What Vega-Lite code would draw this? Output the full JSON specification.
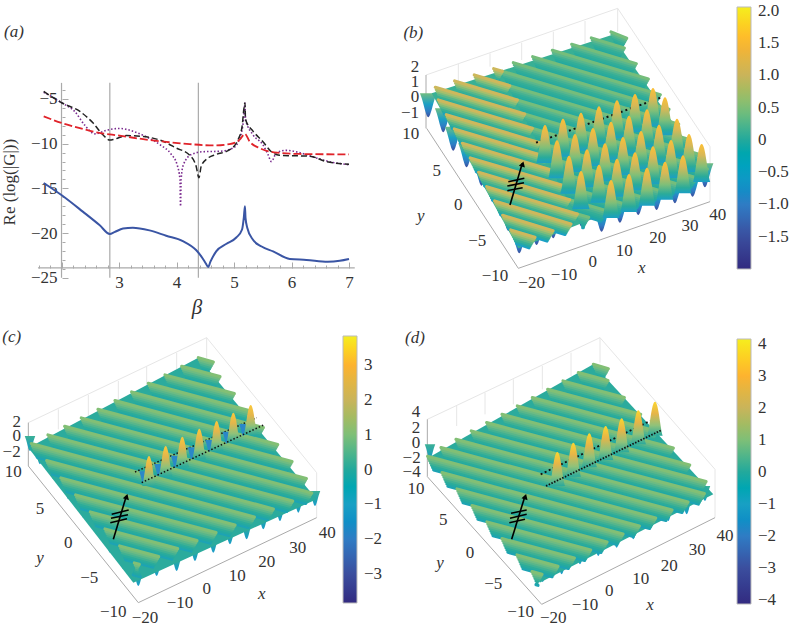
{"$schema":"https://vega.github.io/schema/vega-lite/v6.json","padding":0,"autosize":{"type":"pad"},"background":"white","spacing":0,
"resolve":{"scale":{"color":"independent"},"legend":{"color":"independent"}},
"config":{"view":{"stroke":null},"text":{"font":"Liberation Serif","fontSize":17,"color":"#333"},"axis":{"labelFont":"Liberation Serif","titleFont":"Liberation Serif"},"legend":{"labelFont":"Liberation Serif"}},
"datasets":{
"aLines":[
{"s":"blue","b":1.69,"g":-14.4},{"s":"blue","b":2.01,"g":-15.8},{"s":"blue","b":2.37,"g":-17.6},{"s":"blue","b":2.66,"g":-19.1},{"s":"blue","b":2.84,"g":-20.1},{"s":"blue","b":2.92,"g":-19.9},{"s":"blue","b":3.07,"g":-19.5},{"s":"blue","b":3.24,"g":-19.4},{"s":"blue","b":3.53,"g":-19.7},{"s":"blue","b":3.82,"g":-20.3},{"s":"blue","b":4.11,"g":-20.9},{"s":"blue","b":4.34,"g":-21.9},{"s":"blue","b":4.43,"g":-22.6},{"s":"blue","b":4.51,"g":-23.4},{"s":"blue","b":4.55,"g":-23.8},{"s":"blue","b":4.59,"g":-23.2},{"s":"blue","b":4.69,"g":-22.05},{"s":"blue","b":4.87,"g":-21.2},{"s":"blue","b":5.04,"g":-20.5},{"s":"blue","b":5.14,"g":-19.6},{"s":"blue","b":5.17,"g":-18.3},{"s":"blue","b":5.19,"g":-17},{"s":"blue","b":5.2,"g":-18.3},{"s":"blue","b":5.23,"g":-19.4},{"s":"blue","b":5.33,"g":-20.75},{"s":"blue","b":5.48,"g":-21.5},{"s":"blue","b":5.68,"g":-22.05},{"s":"blue","b":5.97,"g":-22.9},{"s":"blue","b":6.26,"g":-23},{"s":"blue","b":6.63,"g":-23.2},{"s":"blue","b":6.84,"g":-23.1},{"s":"blue","b":7,"g":-22.9}],
"aBlack":[{"b":1.69,"g":-4.15},{"b":2.01,"g":-5.45},{"b":2.32,"g":-6.4},{"b":2.55,"g":-7.7},{"b":2.72,"g":-9},{"b":2.84,"g":-9.6},{"b":2.92,"g":-9.5},{"b":3.13,"g":-9.1},{"b":3.42,"g":-9.2},{"b":3.71,"g":-9.6},{"b":4,"g":-10.5},{"b":4.23,"g":-11.3},{"b":4.34,"g":-12.5},{"b":4.39,"g":-13.8},{"b":4.43,"g":-12.5},{"b":4.55,"g":-11.6},{"b":4.69,"g":-11.2},{"b":4.92,"g":-10.7},{"b":5.07,"g":-9.55},{"b":5.14,"g":-8.1},{"b":5.17,"g":-6.2},{"b":5.19,"g":-5.45},{"b":5.2,"g":-7.3},{"b":5.33,"g":-8.6},{"b":5.5,"g":-9.75},{"b":5.65,"g":-10.9},{"b":5.79,"g":-11.3},{"b":6.03,"g":-11.35},{"b":6.32,"g":-11.4},{"b":6.6,"g":-12},{"b":7,"g":-12.3}],
"aPurple":[{"b":1.69,"g":-4.25},{"b":2.01,"g":-5.45},{"b":2.23,"g":-6.4},{"b":2.4,"g":-7.9},{"b":2.58,"g":-8.9},{"b":2.78,"g":-8.5},{"b":3.01,"g":-8.3},{"b":3.24,"g":-8.6},{"b":3.48,"g":-9.25},{"b":3.71,"g":-10.1},{"b":3.91,"g":-11.2},{"b":4.01,"g":-12.35},{"b":4.06,"g":-14},{"b":4.07,"g":-17},{"b":4.08,"g":-14},{"b":4.12,"g":-12.35},{"b":4.26,"g":-11.2},{"b":4.46,"g":-10.9},{"b":4.75,"g":-10.85},{"b":4.98,"g":-10.5},{"b":5.1,"g":-9.4},{"b":5.17,"g":-7},{"b":5.19,"g":-5.45},{"b":5.2,"g":-7.3},{"b":5.33,"g":-9},{"b":5.5,"g":-10.1},{"b":5.59,"g":-11.2},{"b":5.65,"g":-12},{"b":5.74,"g":-11},{"b":5.91,"g":-10.75},{"b":6.14,"g":-11},{"b":6.43,"g":-11.6},{"b":6.72,"g":-12.1},{"b":7,"g":-12.35}],
"aRed":[{"b":1.69,"g":-6.95},{"b":2.01,"g":-7.7},{"b":2.37,"g":-8.35},{"b":2.66,"g":-8.8},{"b":3.01,"g":-9.1},{"b":3.42,"g":-9.5},{"b":3.82,"g":-9.8},{"b":4.23,"g":-10.05},{"b":4.63,"g":-10.2},{"b":4.92,"g":-10.05},{"b":5.1,"g":-9.55},{"b":5.19,"g":-8.9},{"b":5.27,"g":-9.75},{"b":5.45,"g":-10.5},{"b":5.74,"g":-11},{"b":6.14,"g":-11.15},{"b":7,"g":-11.2}],
"bFaint":[{"u":108,"v":195,"u2":683,"v2":-5},{"u":683,"v":-5,"u2":960,"v2":410},{"u":960,"v":410,"u2":960,"v2":575},{"u":683,"v":-5,"u2":683,"v2":65},{"u":205,"v":162,"u2":205,"v2":215},{"u":300,"v":130,"u2":300,"v2":170},{"u":395,"v":98,"u2":395,"v2":150},{"u":490,"v":65,"u2":490,"v2":130},{"u":585,"v":33,"u2":585,"v2":100}],
"bAxis":[{"u":110,"v":355,"u2":385,"v2":775},{"u":385,"v":775,"u2":960,"v2":575},{"u":108,"v":195,"u2":108,"v2":355}],
"bDips":[{"u":115,"v":322},{"u":160,"v":367},{"u":190,"v":422},{"u":230,"v":472},{"u":275,"v":527},{"u":320,"v":592},{"u":355,"v":662},{"u":388,"v":730},{"u":440,"v":705},{"u":490,"v":685},{"u":575,"v":650},{"u":635,"v":665},{"u":690,"v":638},{"u":745,"v":615},{"u":800,"v":600},{"u":855,"v":580},{"u":908,"v":560},{"u":945,"v":532}],
"bBase":[{"u":540,"v":395}],
"bFlat":[{"u":663,"v":66,"u2":710,"v2":85},{"u":604,"v":84,"u2":703,"v2":114},{"u":545,"v":103,"u2":739,"v2":161},{"u":487,"v":121,"u2":775,"v2":207},{"u":428,"v":140,"u2":811,"v2":254},{"u":370,"v":158,"u2":769,"v2":278},{"u":337,"v":184,"u2":715,"v2":297},{"u":359,"v":227,"u2":660,"v2":317},{"u":382,"v":270,"u2":606,"v2":337},{"u":404,"v":312,"u2":551,"v2":356},{"u":427,"v":355,"u2":496,"v2":376},{"u":769,"v":278,"u2":837,"v2":298},{"u":715,"v":297,"u2":866,"v2":343},{"u":660,"v":317,"u2":895,"v2":388},{"u":606,"v":337,"u2":924,"v2":432},{"u":551,"v":356,"u2":952,"v2":477},{"u":496,"v":376,"u2":919,"v2":503},{"u":450,"v":398,"u2":865,"v2":523},{"u":472,"v":441,"u2":811,"v2":542},{"u":494,"v":483,"u2":758,"v2":562},{"u":517,"v":526,"u2":704,"v2":582},{"u":539,"v":569,"u2":650,"v2":602},{"u":562,"v":612,"u2":596,"v2":622}],
"bElev":[{"u":311,"v":176,"u2":337,"v2":184},{"u":253,"v":195,"u2":359,"v2":227},{"u":194,"v":213,"u2":382,"v2":270},{"u":136,"v":232,"u2":404,"v2":312},{"u":145,"v":270,"u2":427,"v2":355},{"u":169,"v":314,"u2":449,"v2":398},{"u":193,"v":357,"u2":472,"v2":441},{"u":217,"v":400,"u2":494,"v2":483},{"u":241,"v":444,"u2":517,"v2":526},{"u":266,"v":487,"u2":539,"v2":569},{"u":290,"v":530,"u2":562,"v2":612},{"u":314,"v":573,"u2":543,"v2":642},{"u":338,"v":616,"u2":489,"v2":662},{"u":362,"v":660,"u2":435,"v2":682}],
"bDots":[{"u":438,"v":398,"u2":815,"v2":262}],
"bPeaks":[{"u":789,"v":234},{"u":735,"v":252},{"u":681,"v":271},{"u":825,"v":262},{"u":627,"v":289},{"u":771,"v":298},{"u":573,"v":308},{"u":717,"v":317},{"u":861,"v":326},{"u":519,"v":326},{"u":663,"v":335},{"u":807,"v":344},{"u":465,"v":345},{"u":609,"v":354},{"u":753,"v":363},{"u":897,"v":372},{"u":555,"v":372},{"u":699,"v":381},{"u":843,"v":390},{"u":501,"v":391},{"u":645,"v":400},{"u":789,"v":409},{"u":935,"v":402},{"u":591,"v":418},{"u":735,"v":427},{"u":879,"v":436},{"u":537,"v":437},{"u":681,"v":446},{"u":825,"v":455},{"u":627,"v":464},{"u":771,"v":473},{"u":717,"v":492},{"u":573,"v":483},{"u":663,"v":510}],
"bArrow":[{"u":360,"v":585,"u2":397,"v2":460},{"u":355,"v":515,"u2":403,"v2":505},{"u":352,"v":528,"u2":402,"v2":518},{"u":352,"v":542,"u2":398,"v2":533}],
"bHead":[{"u":398,"v":462}],
"bText":[{"t":"(b)","u":70,"v":70,"k":"i"},{"t":"−20","u":425,"v":820},{"t":"−10","u":522,"v":795},{"t":"0","u":608,"v":755},{"t":"10","u":703,"v":722},{"t":"20","u":803,"v":685},{"t":"30","u":900,"v":647},{"t":"40","u":983,"v":615},{"t":"x","u":755,"v":775,"k":"i"},{"t":"10","u":62,"v":372},{"t":"5","u":140,"v":482},{"t":"0","u":205,"v":585},{"t":"−5","u":262,"v":692},{"t":"−10","u":315,"v":797},{"t":"y","u":92,"v":618,"k":"i"},{"t":"2","u":75,"v":172},{"t":"1","u":75,"v":215},{"t":"0","u":75,"v":262},{"t":"−1","u":60,"v":308}],
"cFaint":[{"u":85,"v":290,"u2":620,"v2":35},{"u":620,"v":35,"u2":620,"v2":95},{"u":620,"v":35,"u2":950,"v2":440},{"u":950,"v":440,"u2":950,"v2":575},{"u":175,"v":250,"u2":175,"v2":310},{"u":265,"v":207,"u2":265,"v2":270},{"u":355,"v":165,"u2":355,"v2":225},{"u":440,"v":122,"u2":440,"v2":185},{"u":530,"v":80,"u2":530,"v2":140}],
"cAxis":[{"u":85,"v":420,"u2":415,"v2":830},{"u":415,"v":830,"u2":950,"v2":575},{"u":85,"v":290,"u2":85,"v2":420}],
"cDips":[{"u":90,"v":375},{"u":120,"v":415},{"u":160,"v":460},{"u":205,"v":520},{"u":250,"v":575},{"u":295,"v":625},{"u":330,"v":680},{"u":370,"v":730},{"u":415,"v":780},{"u":470,"v":750},{"u":530,"v":735},{"u":585,"v":705},{"u":640,"v":680},{"u":690,"v":655},{"u":740,"v":640},{"u":790,"v":610},{"u":840,"v":585},{"u":895,"v":560},{"u":945,"v":540}],
"cSheet":[{"u":517,"v":437}],
"cR":[{"u":595,"v":95,"u2":640,"v2":108},{"u":545,"v":121,"u2":660,"v2":152},{"u":495,"v":147,"u2":703,"v2":203},{"u":445,"v":172,"u2":747,"v2":254},{"u":395,"v":198,"u2":790,"v2":305},{"u":345,"v":224,"u2":833,"v2":356},{"u":294,"v":250,"u2":876,"v2":407},{"u":244,"v":276,"u2":919,"v2":458},{"u":194,"v":301,"u2":935,"v2":501},{"u":144,"v":327,"u2":878,"v2":525},{"u":94,"v":353,"u2":820,"v2":549},{"u":140,"v":404,"u2":763,"v2":573},{"u":183,"v":456,"u2":705,"v2":597},{"u":227,"v":507,"u2":648,"v2":620},{"u":271,"v":558,"u2":591,"v2":644},{"u":315,"v":609,"u2":533,"v2":668},{"u":359,"v":660,"u2":476,"v2":692},{"u":403,"v":711,"u2":418,"v2":715}],
"cDotsBack":[{"u":405,"v":438,"u2":770,"v2":275}],
"cDotsFront":[{"u":425,"v":470,"u2":790,"v2":297}],
"cBase":[{"u":730,"v":330},{"u":680,"v":353},{"u":628,"v":378},{"u":575,"v":400},{"u":525,"v":425},{"u":475,"v":450},{"u":430,"v":472}],
"cPeaks":[{"u":752,"v":237},{"u":700,"v":260},{"u":650,"v":285},{"u":598,"v":308},{"u":547,"v":332},{"u":497,"v":360},{"u":447,"v":390}],
"cArrow":[{"u":340,"v":640,"u2":379,"v2":510},{"u":335,"v":565,"u2":386,"v2":552},{"u":333,"v":577,"u2":384,"v2":566},{"u":331,"v":590,"u2":381,"v2":578}],
"cHead":[{"u":380,"v":512}],
"cText":[{"t":"(c)","u":35,"v":33,"k":"i"},{"t":"−20","u":435,"v":875},{"t":"−10","u":540,"v":830},{"t":"0","u":620,"v":790},{"t":"10","u":712,"v":750},{"t":"20","u":800,"v":708},{"t":"30","u":893,"v":665},{"t":"40","u":982,"v":622},{"t":"x","u":785,"v":805,"k":"i"},{"t":"10","u":40,"v":437},{"t":"5","u":120,"v":550},{"t":"0","u":205,"v":650},{"t":"−5","u":268,"v":755},{"t":"−10","u":340,"v":858},{"t":"y","u":120,"v":695,"k":"i"},{"t":"2","u":50,"v":288},{"t":"0","u":50,"v":330},{"t":"−2","u":35,"v":378}],
"dFaint":[{"u":112,"v":280,"u2":630,"v2":35},{"u":630,"v":35,"u2":630,"v2":110},{"u":630,"v":35,"u2":975,"v2":430},{"u":975,"v":430,"u2":975,"v2":575},{"u":200,"v":240,"u2":200,"v2":300},{"u":285,"v":200,"u2":285,"v2":265},{"u":370,"v":160,"u2":370,"v2":235},{"u":457,"v":120,"u2":457,"v2":190},{"u":543,"v":80,"u2":543,"v2":150}],
"dAxis":[{"u":112,"v":452,"u2":455,"v2":835},{"u":455,"v":835,"u2":975,"v2":575},{"u":112,"v":280,"u2":112,"v2":452}],
"dDips":[{"u":120,"v":400},{"u":160,"v":440},{"u":200,"v":490},{"u":240,"v":530},{"u":280,"v":580},{"u":320,"v":625},{"u":365,"v":670},{"u":410,"v":720},{"u":458,"v":768},{"u":515,"v":745},{"u":570,"v":715},{"u":625,"v":690},{"u":680,"v":665},{"u":730,"v":640},{"u":780,"v":605},{"u":835,"v":585},{"u":890,"v":565},{"u":945,"v":525}],
"dSheet":[{"u":541,"v":440}],
"dR":[{"u":610,"v":115,"u2":655,"v2":128},{"u":565,"v":140,"u2":654,"v2":164},{"u":519,"v":165,"u2":703,"v2":215},{"u":473,"v":190,"u2":752,"v2":265},{"u":427,"v":215,"u2":801,"v2":316},{"u":382,"v":240,"u2":850,"v2":366},{"u":336,"v":265,"u2":899,"v2":417},{"u":290,"v":290,"u2":948,"v2":467},{"u":244,"v":315,"u2":943,"v2":503},{"u":198,"v":340,"u2":894,"v2":528},{"u":153,"v":365,"u2":846,"v2":552},{"u":113,"v":391,"u2":797,"v2":576},{"u":156,"v":440,"u2":748,"v2":600},{"u":201,"v":489,"u2":699,"v2":624},{"u":246,"v":539,"u2":651,"v2":648},{"u":291,"v":588,"u2":602,"v2":672},{"u":336,"v":638,"u2":553,"v2":696},{"u":381,"v":687,"u2":504,"v2":721},{"u":426,"v":737,"u2":456,"v2":745}],
"dDotsBack":[{"u":452,"v":445,"u2":780,"v2":285}],
"dDotsFront":[{"u":468,"v":480,"u2":815,"v2":312}],
"dPeaks":[{"u":795,"v":227},{"u":745,"v":253},{"u":695,"v":277},{"u":647,"v":300},{"u":598,"v":322},{"u":550,"v":350},{"u":502,"v":378}],
"dArrow":[{"u":365,"v":640,"u2":405,"v2":510},{"u":363,"v":562,"u2":410,"v2":552},{"u":360,"v":577,"u2":410,"v2":565},{"u":358,"v":590,"u2":405,"v2":580}],
"dHead":[{"u":406,"v":512}],
"dText":[{"t":"(d)","u":75,"v":35,"k":"i"},{"t":"−20","u":490,"v":875},{"t":"−10","u":585,"v":838},{"t":"0","u":658,"v":795},{"t":"10","u":752,"v":758},{"t":"20","u":838,"v":720},{"t":"30","u":922,"v":672},{"t":"40","u":1005,"v":630},{"t":"x","u":780,"v":838,"k":"i"},{"t":"10","u":78,"v":490},{"t":"5","u":160,"v":583},{"t":"0","u":240,"v":680},{"t":"−5","u":310,"v":775},{"t":"−10","u":392,"v":858},{"t":"y","u":150,"v":712,"k":"i"},{"t":"4","u":78,"v":257},{"t":"2","u":78,"v":305},{"t":"0","u":78,"v":350},{"t":"−2","u":65,"v":395},{"t":"−4","u":65,"v":438}]
},
"vconcat":[
{"resolve":{"scale":{"color":"independent"},"legend":{"color":"independent"}},"hconcat":[
{"width":390,"height":318,
"encoding":{
"x":{"field":"b","type":"quantitative","scale":{"domain":[0.93,7.713],"nice":false,"zero":false},
"axis":{"offset":-50,"grid":false,"domain":false,"title":null,"values":[1.6,1.8,2,2.2,2.4,2.6,2.8,3,3.2,3.4,3.6,3.8,4,4.2,4.4,4.6,4.8,5,5.2,5.4,5.6,5.8,6,6.2,6.4,6.6,6.8,7],"labelExpr":"(abs(datum.value-round(datum.value))<0.01&&datum.value>=3)?format(datum.value,'d'):''","labelFontSize":17,"labelColor":"#333","labelPadding":12,"tickColor":"#aaa","tickSize":{"condition":{"test":"abs(datum.value-round(datum.value))<0.01","value":-6},"value":-3},"labelOverlap":false}},
"y":{"field":"g","type":"quantitative","scale":{"domain":[-29.5,6.07],"nice":false,"zero":false},
"axis":{"offset":-62,"grid":false,"domain":false,"title":null,"values":[-25,-24,-23,-22,-21,-20,-19,-18,-17,-16,-15,-14,-13,-12,-11,-10,-9,-8,-7,-6,-5,-4],"labelExpr":"datum.value%5==0?format(datum.value,'d'):''","labelFontSize":17,"labelColor":"#333","labelPadding":11,"tickColor":"#aaa","tickSize":{"condition":{"test":"datum.value%5==0","value":-6},"value":-3},"labelOverlap":false}}},
"layer":[
{"data":{"values":[{"b":2,"g":-25,"g2":-3.2},{"b":2.84,"g":-25,"g2":-3.2},{"b":4.38,"g":-25,"g2":-3.2}]},"mark":{"type":"rule","color":"#aaa","strokeWidth":1.2},"encoding":{"y2":{"field":"g2"}}},
{"data":{"values":[{"b":1.59,"b2":7.1,"g":-23.9}]},"mark":{"type":"rule","color":"#aaa","strokeWidth":1.2},"encoding":{"x2":{"field":"b2"}}},
{"data":{"name":"aLines"},"mark":{"type":"line","color":"#3a55a4","strokeWidth":2,"interpolate":"monotone"}},
{"data":{"name":"aPurple"},"mark":{"type":"line","color":"#7a2a8e","strokeWidth":1.6,"strokeDash":[1.5,2],"interpolate":"monotone"}},
{"data":{"name":"aBlack"},"mark":{"type":"line","color":"#222","strokeWidth":1.5,"strokeDash":[6,3],"interpolate":"monotone"}},
{"data":{"name":"aRed"},"mark":{"type":"line","color":"#e0232a","strokeWidth":1.8,"strokeDash":[8,3],"interpolate":"monotone"}},
{"data":{"values":[{"t":"(a)","b":1.0,"g":2.5}]},"mark":{"type":"text","fontStyle":"italic","align":"left"},"encoding":{"text":{"field":"t"}}},
{"data":{"values":[{"t":"β","b":4.356,"g":-28.4}]},"mark":{"type":"text","fontStyle":"italic","fontSize":21},"encoding":{"text":{"field":"t"}}},
{"data":{"values":[{"t":"Re (log(|G|))","b":1.104,"g":-14.3}]},"mark":{"type":"text","angle":270},"encoding":{"text":{"field":"t"}}}
]},
{"width":401,"height":318,
"encoding":{"x":{"field":"u","type":"quantitative","scale":{"domain":[0,1203],"nice":false,"zero":false},"axis":null},"y":{"field":"v","type":"quantitative","scale":{"domain":[924,-30],"nice":false,"zero":false},"axis":null}},
"layer":[
{"data":{"name":"bFaint"},"mark":{"type":"rule","color":"#e6e6e6","strokeWidth":1},"encoding":{"x2":{"field":"u2"},"y2":{"field":"v2"}}},
{"data":{"name":"bAxis"},"mark":{"type":"rule","color":"#aaa","strokeWidth":1},"encoding":{"x2":{"field":"u2"},"y2":{"field":"v2"}}},
{"data":{"name":"bDips"},"mark":{"type":"point","filled":true,"opacity":1,"shape":"M-0.7,-1 C-0.4,-0.3 -0.2,1 0,1 C0.2,1 0.4,-0.3 0.7,-1 Z","size":576,"yOffset":-12,"fill":{"gradient":"linear","x1":0,"y1":0,"x2":0,"y2":1,"stops":[{"offset":0,"color":"#70bc82"},{"offset":0.45,"color":"#1aa0c4"},{"offset":0.75,"color":"#2f7cc4"},{"offset":1,"color":"#3b4e9e"}]}}},
{"data":{"name":"bBase"},"mark":{"type":"point","filled":true,"opacity":1,"shape":"M-0.922,-0.322 L0.278,-0.711 L0.922,0.211 L-0.344,0.711 Z","size":90000,"fill":"#38b095"}},
{"data":{"name":"bFlat"},"mark":{"type":"rule","strokeCap":"round","strokeWidth":3.2,"color":"#1ea1b5","xOffset":6,"yOffset":13.6,"x2Offset":-6,"y2Offset":10.4},"encoding":{"x2":{"field":"u2"},"y2":{"field":"v2"}}},
{"data":{"name":"bFlat"},"mark":{"type":"rule","strokeCap":"round","strokeWidth":3.2,"color":"#21a8a3","xOffset":5,"yOffset":11.35,"x2Offset":-5,"y2Offset":8.65},"encoding":{"x2":{"field":"u2"},"y2":{"field":"v2"}}},
{"data":{"name":"bFlat"},"mark":{"type":"rule","strokeCap":"round","strokeWidth":3.2,"color":"#2aab9c","xOffset":4,"yOffset":9.1,"x2Offset":-4,"y2Offset":6.9},"encoding":{"x2":{"field":"u2"},"y2":{"field":"v2"}}},
{"data":{"name":"bFlat"},"mark":{"type":"rule","strokeCap":"round","strokeWidth":3.2,"color":"#33ae98","xOffset":3,"yOffset":6.8,"x2Offset":-3,"y2Offset":5.2},"encoding":{"x2":{"field":"u2"},"y2":{"field":"v2"}}},
{"data":{"name":"bFlat"},"mark":{"type":"rule","strokeCap":"round","strokeWidth":3.2,"color":"#45b293","xOffset":2,"yOffset":4.5,"x2Offset":-2,"y2Offset":3.5},"encoding":{"x2":{"field":"u2"},"y2":{"field":"v2"}}},
{"data":{"name":"bFlat"},"mark":{"type":"rule","strokeCap":"round","strokeWidth":3.2,"color":"#5cb78c","xOffset":1,"yOffset":2.3,"x2Offset":-1,"y2Offset":1.7},"encoding":{"x2":{"field":"u2"},"y2":{"field":"v2"}}},
{"data":{"name":"bFlat"},"mark":{"type":"rule","strokeCap":"round","strokeWidth":3.2},"encoding":{"x2":{"field":"u2"},"y2":{"field":"v2"},"color":{"datum":0.45,"type":"quantitative","scale":{"domain":[-2,-1.5,-1,-0.5,0,0.5,1,1.5,2.06],"range":["#322a80","#3b4e9e","#2f7cc4","#18a0c4","#22a99c","#7ebf77","#c9b45a","#fdb32f","#f5ee1f"]},"legend":{"type":"gradient","orient":"none","legendX":347,"legendY":7,"title":null,"gradientLength":262,"gradientThickness":14,"values":[-1.5,-1,-0.5,0,0.5,1,1.5,2],"labelExpr":"datum.value==0?'0':format(datum.value,'.1f')","labelFontSize":17,"labelColor":"#333","labelOffset":7,"gradientStrokeColor":"#bbb","gradientStrokeWidth":1,"labelOverlap":false}}}},
{"data":{"name":"bElev"},"mark":{"type":"rule","strokeCap":"round","strokeWidth":3.2,"color":"#1aa0c4","xOffset":6,"yOffset":13.6,"x2Offset":-6,"y2Offset":10.4},"encoding":{"x2":{"field":"u2"},"y2":{"field":"v2"}}},
{"data":{"name":"bElev"},"mark":{"type":"rule","strokeCap":"round","strokeWidth":3.2,"color":"#25a9a5","xOffset":5,"yOffset":11.35,"x2Offset":-5,"y2Offset":8.65},"encoding":{"x2":{"field":"u2"},"y2":{"field":"v2"}}},
{"data":{"name":"bElev"},"mark":{"type":"rule","strokeCap":"round","strokeWidth":3.2,"color":"#38b095","xOffset":4,"yOffset":9.1,"x2Offset":-4,"y2Offset":6.9},"encoding":{"x2":{"field":"u2"},"y2":{"field":"v2"}}},
{"data":{"name":"bElev"},"mark":{"type":"rule","strokeCap":"round","strokeWidth":3.2,"color":"#58b78a","xOffset":3,"yOffset":6.8,"x2Offset":-3,"y2Offset":5.2},"encoding":{"x2":{"field":"u2"},"y2":{"field":"v2"}}},
{"data":{"name":"bElev"},"mark":{"type":"rule","strokeCap":"round","strokeWidth":3.2,"color":"#7fbd7a","xOffset":2,"yOffset":4.5,"x2Offset":-2,"y2Offset":3.5},"encoding":{"x2":{"field":"u2"},"y2":{"field":"v2"}}},
{"data":{"name":"bElev"},"mark":{"type":"rule","strokeCap":"round","strokeWidth":3.2,"color":"#a7be6c","xOffset":1,"yOffset":2.3,"x2Offset":-1,"y2Offset":1.7},"encoding":{"x2":{"field":"u2"},"y2":{"field":"v2"}}},
{"data":{"name":"bElev"},"mark":{"type":"rule","strokeCap":"round","strokeWidth":3.2,"color":"#cdb85c"},"encoding":{"x2":{"field":"u2"},"y2":{"field":"v2"}}},
{"data":{"name":"bDots"},"mark":{"type":"rule","strokeWidth":2,"color":"#111","strokeDash":[2,3]},"encoding":{"x2":{"field":"u2"},"y2":{"field":"v2"}}},
{"data":{"name":"bPeaks"},"mark":{"type":"point","filled":true,"opacity":1,"shape":"M-0.45,1 C-0.3,0.5 -0.2,-1 0,-1 C0.2,-1 0.3,0.5 0.45,1 Z","size":1444,"yOffset":19,"fill":{"gradient":"linear","x1":0,"y1":0,"x2":0,"y2":1,"stops":[{"offset":0,"color":"#fdc035"},{"offset":0.3,"color":"#d8b856"},{"offset":0.6,"color":"#80bf78"},{"offset":0.85,"color":"#2aab9a"},{"offset":1,"color":"#1a9fc4"}]}}},
{"data":{"name":"bArrow"},"mark":{"type":"rule","strokeWidth":1.6,"color":"#000"},"encoding":{"x2":{"field":"u2"},"y2":{"field":"v2"}}},
{"data":{"name":"bHead"},"mark":{"type":"point","filled":true,"opacity":1,"shape":"triangle-up","size":40,"angle":17,"color":"#000"}},
{"data":{"name":"bText"},"transform":[{"filter":"datum.k!='i'"}],"mark":{"type":"text"},"encoding":{"text":{"field":"t"}}},
{"data":{"name":"bText"},"transform":[{"filter":"datum.k=='i'"}],"mark":{"type":"text","fontStyle":"italic"},"encoding":{"text":{"field":"t"}}}
]}
],"spacing":0,"bounds":"flush"},
{"resolve":{"scale":{"color":"independent"},"legend":{"color":"independent"}},"hconcat":[
{"width":390,"height":310,
"encoding":{"x":{"field":"u","type":"quantitative","scale":{"domain":[0,1170],"nice":false,"zero":false},"axis":null},"y":{"field":"v","type":"quantitative","scale":{"domain":[909,-21],"nice":false,"zero":false},"axis":null}},
"layer":[
{"data":{"name":"cFaint"},"mark":{"type":"rule","color":"#e6e6e6","strokeWidth":1},"encoding":{"x2":{"field":"u2"},"y2":{"field":"v2"}}},
{"data":{"name":"cAxis"},"mark":{"type":"rule","color":"#aaa","strokeWidth":1},"encoding":{"x2":{"field":"u2"},"y2":{"field":"v2"}}},
{"data":{"name":"cDips"},"mark":{"type":"point","filled":true,"opacity":1,"shape":"M-0.7,-1 C-0.4,-0.3 -0.2,1 0,1 C0.2,1 0.4,-0.3 0.7,-1 Z","size":225,"yOffset":-7.5,"fill":{"gradient":"linear","x1":0,"y1":0,"x2":0,"y2":1,"stops":[{"offset":0,"color":"#3cb096"},{"offset":0.7,"color":"#1ca1b8"},{"offset":1,"color":"#1d9ccc"}]}}},
{"data":{"name":"cSheet"},"mark":{"type":"point","filled":true,"opacity":1,"shape":"M-0.96,-0.16 L0.173,-0.76 L0.962,0.184 L-0.26,0.74 Z","size":90000,"fill":"#2bab9d"}},
{"data":{"name":"cR"},"mark":{"type":"rule","strokeCap":"round","strokeWidth":3.2,"color":"#1da3b4","xOffset":6,"yOffset":13.6,"x2Offset":-6,"y2Offset":10.4},"encoding":{"x2":{"field":"u2"},"y2":{"field":"v2"}}},
{"data":{"name":"cR"},"mark":{"type":"rule","strokeCap":"round","strokeWidth":3.2,"color":"#22a8a4","xOffset":5,"yOffset":11.35,"x2Offset":-5,"y2Offset":8.65},"encoding":{"x2":{"field":"u2"},"y2":{"field":"v2"}}},
{"data":{"name":"cR"},"mark":{"type":"rule","strokeCap":"round","strokeWidth":3.2,"color":"#2bac9b","xOffset":4,"yOffset":9.1,"x2Offset":-4,"y2Offset":6.9},"encoding":{"x2":{"field":"u2"},"y2":{"field":"v2"}}},
{"data":{"name":"cR"},"mark":{"type":"rule","strokeCap":"round","strokeWidth":3.2,"color":"#40b193","xOffset":3,"yOffset":6.8,"x2Offset":-3,"y2Offset":5.2},"encoding":{"x2":{"field":"u2"},"y2":{"field":"v2"}}},
{"data":{"name":"cR"},"mark":{"type":"rule","strokeCap":"round","strokeWidth":3.2,"color":"#58b68b","xOffset":2,"yOffset":4.5,"x2Offset":-2,"y2Offset":3.5},"encoding":{"x2":{"field":"u2"},"y2":{"field":"v2"}}},
{"data":{"name":"cR"},"mark":{"type":"rule","strokeCap":"round","strokeWidth":3.2,"color":"#6fbb82","xOffset":1,"yOffset":2.3,"x2Offset":-1,"y2Offset":1.7},"encoding":{"x2":{"field":"u2"},"y2":{"field":"v2"}}},
{"data":{"name":"cR"},"mark":{"type":"rule","strokeCap":"round","strokeWidth":3.2},"encoding":{"x2":{"field":"u2"},"y2":{"field":"v2"},"color":{"datum":1.05,"type":"quantitative","scale":{"domain":[-3.84,-3,-2,-1,0,1,2,3,3.84],"range":["#322a80","#3b4e9e","#2f7cc4","#18a0c4","#22a99c","#7ebf77","#c9b45a","#fdb32f","#f5ee1f"]},"legend":{"type":"gradient","orient":"none","legendX":343,"legendY":17,"title":null,"gradientLength":267,"gradientThickness":14,"values":[-3,-2,-1,0,1,2,3],"labelFontSize":17,"labelColor":"#333","labelOffset":7,"gradientStrokeColor":"#bbb","gradientStrokeWidth":1,"labelOverlap":false}}}},
{"data":{"name":"cDotsBack"},"mark":{"type":"rule","strokeWidth":1.5,"color":"#111","strokeDash":[1.5,2]},"encoding":{"x2":{"field":"u2"},"y2":{"field":"v2"}}},
{"data":{"name":"cBase"},"mark":{"type":"point","filled":true,"opacity":1,"shape":"M-0.7,-1 C-0.4,-0.3 -0.2,1 0,1 C0.2,1 0.4,-0.3 0.7,-1 Z","size":144,"yOffset":-6,"fill":"#2a88c8"}},
{"data":{"name":"cPeaks"},"mark":{"type":"point","filled":true,"opacity":1,"shape":"M-0.45,1 C-0.3,0.5 -0.2,-1 0,-1 C0.2,-1 0.3,0.5 0.45,1 Z","size":900,"yOffset":15,"fill":{"gradient":"linear","x1":0,"y1":0,"x2":0,"y2":1,"stops":[{"offset":0,"color":"#fbc83a"},{"offset":0.35,"color":"#e3b64c"},{"offset":0.7,"color":"#8fc27a"},{"offset":1,"color":"#2aa99c"}]}}},
{"data":{"name":"cDotsFront"},"mark":{"type":"rule","strokeWidth":1.5,"color":"#111","strokeDash":[1.5,2]},"encoding":{"x2":{"field":"u2"},"y2":{"field":"v2"}}},
{"data":{"name":"cArrow"},"mark":{"type":"rule","strokeWidth":1.6,"color":"#000"},"encoding":{"x2":{"field":"u2"},"y2":{"field":"v2"}}},
{"data":{"name":"cHead"},"mark":{"type":"point","filled":true,"opacity":1,"shape":"triangle-up","size":40,"angle":17,"color":"#000"}},
{"data":{"name":"cText"},"transform":[{"filter":"datum.k!='i'"}],"mark":{"type":"text"},"encoding":{"text":{"field":"t"}}},
{"data":{"name":"cText"},"transform":[{"filter":"datum.k=='i'"}],"mark":{"type":"text","fontStyle":"italic"},"encoding":{"text":{"field":"t"}}}
]},
{"width":401,"height":310,
"encoding":{"x":{"field":"u","type":"quantitative","scale":{"domain":[0,1203],"nice":false,"zero":false},"axis":null},"y":{"field":"v","type":"quantitative","scale":{"domain":[909,-21],"nice":false,"zero":false},"axis":null}},
"layer":[
{"data":{"name":"dFaint"},"mark":{"type":"rule","color":"#e6e6e6","strokeWidth":1},"encoding":{"x2":{"field":"u2"},"y2":{"field":"v2"}}},
{"data":{"name":"dAxis"},"mark":{"type":"rule","color":"#aaa","strokeWidth":1},"encoding":{"x2":{"field":"u2"},"y2":{"field":"v2"}}},
{"data":{"name":"dDips"},"mark":{"type":"point","filled":true,"opacity":1,"shape":"M-0.7,-1 C-0.4,-0.3 -0.2,1 0,1 C0.2,1 0.4,-0.3 0.7,-1 Z","size":225,"yOffset":-7.5,"fill":{"gradient":"linear","x1":0,"y1":0,"x2":0,"y2":1,"stops":[{"offset":0,"color":"#3cb096"},{"offset":0.7,"color":"#1ca1b8"},{"offset":1,"color":"#1d9ccc"}]}}},
{"data":{"name":"dSheet"},"mark":{"type":"point","filled":true,"opacity":1,"shape":"M-0.947,-0.1 L0.153,-0.722 L0.953,0.144 L-0.202,0.733 Z","size":90000,"fill":"#2bab9d"}},
{"data":{"name":"dR"},"mark":{"type":"rule","strokeCap":"round","strokeWidth":3.2,"color":"#1da3b4","xOffset":6,"yOffset":13.6,"x2Offset":-6,"y2Offset":10.4},"encoding":{"x2":{"field":"u2"},"y2":{"field":"v2"}}},
{"data":{"name":"dR"},"mark":{"type":"rule","strokeCap":"round","strokeWidth":3.2,"color":"#22a8a4","xOffset":5,"yOffset":11.35,"x2Offset":-5,"y2Offset":8.65},"encoding":{"x2":{"field":"u2"},"y2":{"field":"v2"}}},
{"data":{"name":"dR"},"mark":{"type":"rule","strokeCap":"round","strokeWidth":3.2,"color":"#2bac9b","xOffset":4,"yOffset":9.1,"x2Offset":-4,"y2Offset":6.9},"encoding":{"x2":{"field":"u2"},"y2":{"field":"v2"}}},
{"data":{"name":"dR"},"mark":{"type":"rule","strokeCap":"round","strokeWidth":3.2,"color":"#40b193","xOffset":3,"yOffset":6.8,"x2Offset":-3,"y2Offset":5.2},"encoding":{"x2":{"field":"u2"},"y2":{"field":"v2"}}},
{"data":{"name":"dR"},"mark":{"type":"rule","strokeCap":"round","strokeWidth":3.2,"color":"#58b68b","xOffset":2,"yOffset":4.5,"x2Offset":-2,"y2Offset":3.5},"encoding":{"x2":{"field":"u2"},"y2":{"field":"v2"}}},
{"data":{"name":"dR"},"mark":{"type":"rule","strokeCap":"round","strokeWidth":3.2,"color":"#6fbb82","xOffset":1,"yOffset":2.3,"x2Offset":-1,"y2Offset":1.7},"encoding":{"x2":{"field":"u2"},"y2":{"field":"v2"}}},
{"data":{"name":"dR"},"mark":{"type":"rule","strokeCap":"round","strokeWidth":3.2},"encoding":{"x2":{"field":"u2"},"y2":{"field":"v2"},"color":{"datum":1.05,"type":"quantitative","scale":{"domain":[-4.12,-3,-2,-1,0,1,2,3,4.15],"range":["#322a80","#3b4e9e","#2f7cc4","#18a0c4","#22a99c","#7ebf77","#c9b45a","#fdb32f","#f5ee1f"]},"legend":{"type":"gradient","orient":"none","legendX":347,"legendY":20,"title":null,"gradientLength":265,"gradientThickness":14,"values":[-4,-3,-2,-1,0,1,2,3,4],"labelFontSize":17,"labelColor":"#333","labelOffset":7,"gradientStrokeColor":"#bbb","gradientStrokeWidth":1,"labelOverlap":false}}}},
{"data":{"name":"dDotsBack"},"mark":{"type":"rule","strokeWidth":1.8,"color":"#111","strokeDash":[2,2.5]},"encoding":{"x2":{"field":"u2"},"y2":{"field":"v2"}}},
{"data":{"name":"dPeaks"},"mark":{"type":"point","filled":true,"opacity":1,"shape":"M-0.45,1 C-0.3,0.5 -0.2,-1 0,-1 C0.2,-1 0.3,0.5 0.45,1 Z","size":1156,"yOffset":17,"fill":{"gradient":"linear","x1":0,"y1":0,"x2":0,"y2":1,"stops":[{"offset":0,"color":"#fbd52f"},{"offset":0.35,"color":"#e6b548"},{"offset":0.7,"color":"#8fc27a"},{"offset":1,"color":"#2aa99c"}]}}},
{"data":{"name":"dDotsFront"},"mark":{"type":"rule","strokeWidth":1.8,"color":"#111","strokeDash":[1.5,1.5]},"encoding":{"x2":{"field":"u2"},"y2":{"field":"v2"}}},
{"data":{"name":"dArrow"},"mark":{"type":"rule","strokeWidth":1.6,"color":"#000"},"encoding":{"x2":{"field":"u2"},"y2":{"field":"v2"}}},
{"data":{"name":"dHead"},"mark":{"type":"point","filled":true,"opacity":1,"shape":"triangle-up","size":40,"angle":17,"color":"#000"}},
{"data":{"name":"dText"},"transform":[{"filter":"datum.k!='i'"}],"mark":{"type":"text"},"encoding":{"text":{"field":"t"}}},
{"data":{"name":"dText"},"transform":[{"filter":"datum.k=='i'"}],"mark":{"type":"text","fontStyle":"italic"},"encoding":{"text":{"field":"t"}}}
]}
],"spacing":0,"bounds":"flush"}
]}
